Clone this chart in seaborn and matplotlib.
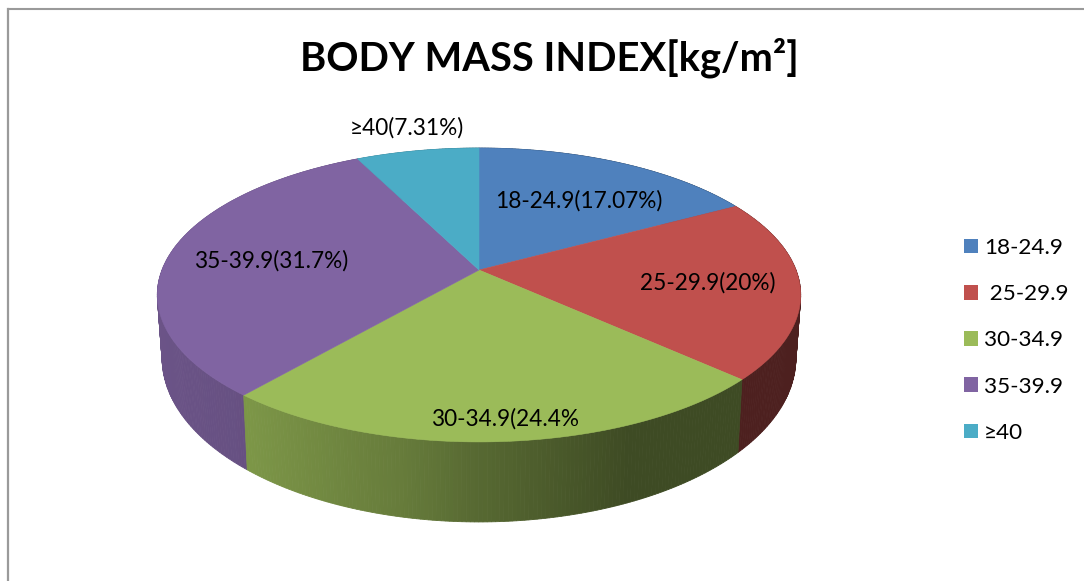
import numpy as np
import matplotlib
matplotlib.use("Agg")
import matplotlib.pyplot as plt
from matplotlib.patches import Patch
import seaborn as sns

categories = ["18-24.9", " 25-29.9", "30-34.9", "35-39.9", "≥40"]
values = [17.07, 20, 24.4, 31.7, 7.31]
slice_labels = ["18-24.9(17.07%)", "25-29.9(20%)", "30-34.9(24.4%", "35-39.9(31.7%)", "≥40(7.31%)"]
label_anchor = [(579, 201), (708, 283), (505, 419), (271, 261), (407, 128)]
hex_colors = ["#4F81BD", "#C0504D", "#9BBB59", "#8064A2", "#4BACC6"]
title = "BODY MASS INDEX[kg/m²]"

sns.set_theme(style="white")
plt.rcParams["font.family"] = ["Lato", "DejaVu Sans"]
palette = sns.color_palette(hex_colors)

fig = plt.figure(figsize=(10.84, 5.81), dpi=100)
ax = fig.add_axes([0, 0, 1, 1])
ax.set_xlim(0, 1084)
ax.set_ylim(581, 0)
ax.axis("off")

# perspective projection of the pie's disc
CX, CY, A, B, K = 479.0, 270.0, 142.7, 317.0, 0.17

def top_xy(theta):
    u, v = np.sin(theta), np.cos(theta)
    d = 1 + K * v
    return CX + B * u / d, CY - A * v / d

def bottom_xy(theta):
    x, y = top_xy(theta)
    return CX + (x - CX) * 0.985, y + 63 + (y - 294) * 0.115

def shade(theta):
    u = np.sin(theta)
    return np.interp(u, [-1.0, -0.62, -0.2, 0.0, 0.4, 1.0], [0.84, 0.80, 0.66, 0.56, 0.40, 0.40])

fractions = np.array(values) / np.sum(values)
edges = 2 * np.pi * np.concatenate([[0], np.cumsum(fractions)])

# side wall, back to front
strips = []
for i, col in enumerate(palette):
    n = max(int((edges[i + 1] - edges[i]) * 90), 2)
    th = np.linspace(edges[i], edges[i + 1], n + 1)
    for a, b in zip(th[:-1], th[1:]):
        strips.append((-np.cos((a + b) / 2), a, b, col))
strips.sort(key=lambda s: s[0])
for _, a, b, col in strips:
    xa, ya = top_xy(np.array([a, b]))
    xb, yb = bottom_xy(np.array([b, a]))
    c = np.array(col) * shade((a + b) / 2)
    ax.fill(np.r_[xa, xb], np.r_[ya, yb], color=c, lw=0.6, zorder=2)

# top face
for i, col in enumerate(palette):
    th = np.linspace(edges[i], edges[i + 1], 200)
    x, y = top_xy(th)
    ax.fill(np.r_[CX, x], np.r_[CY, y], color=col, lw=0.4, zorder=3)

for text, (x, y) in zip(slice_labels, label_anchor):
    ax.text(x, y, text, ha="center", va="center", fontsize=16.3, color="black", zorder=5)

ax.text(549, 58, title, ha="center", va="center", fontsize=28.7, fontweight="bold", color="black")

# chart-area border: left and top only
ax.plot([7.5, 7.5], [581, 9], color="#9A9A9A", lw=1.6, solid_capstyle="projecting", zorder=1)
ax.plot([7.5, 1084], [9, 9], color="#9A9A9A", lw=1.5, zorder=1)

handles = [Patch(facecolor=c, edgecolor="none") for c in palette]
ax.legend(handles, categories, loc="upper left", bbox_to_anchor=(955 / 1084, 1 - 229 / 581),
          bbox_transform=fig.transFigure, frameon=False, fontsize=16.2,
          handlelength=0.62, handleheight=0.62, handletextpad=0.27,
          labelspacing=1.165, labelcolor="black", borderaxespad=0, borderpad=0.4)

fig.savefig("out.png", dpi=100, facecolor="white")
